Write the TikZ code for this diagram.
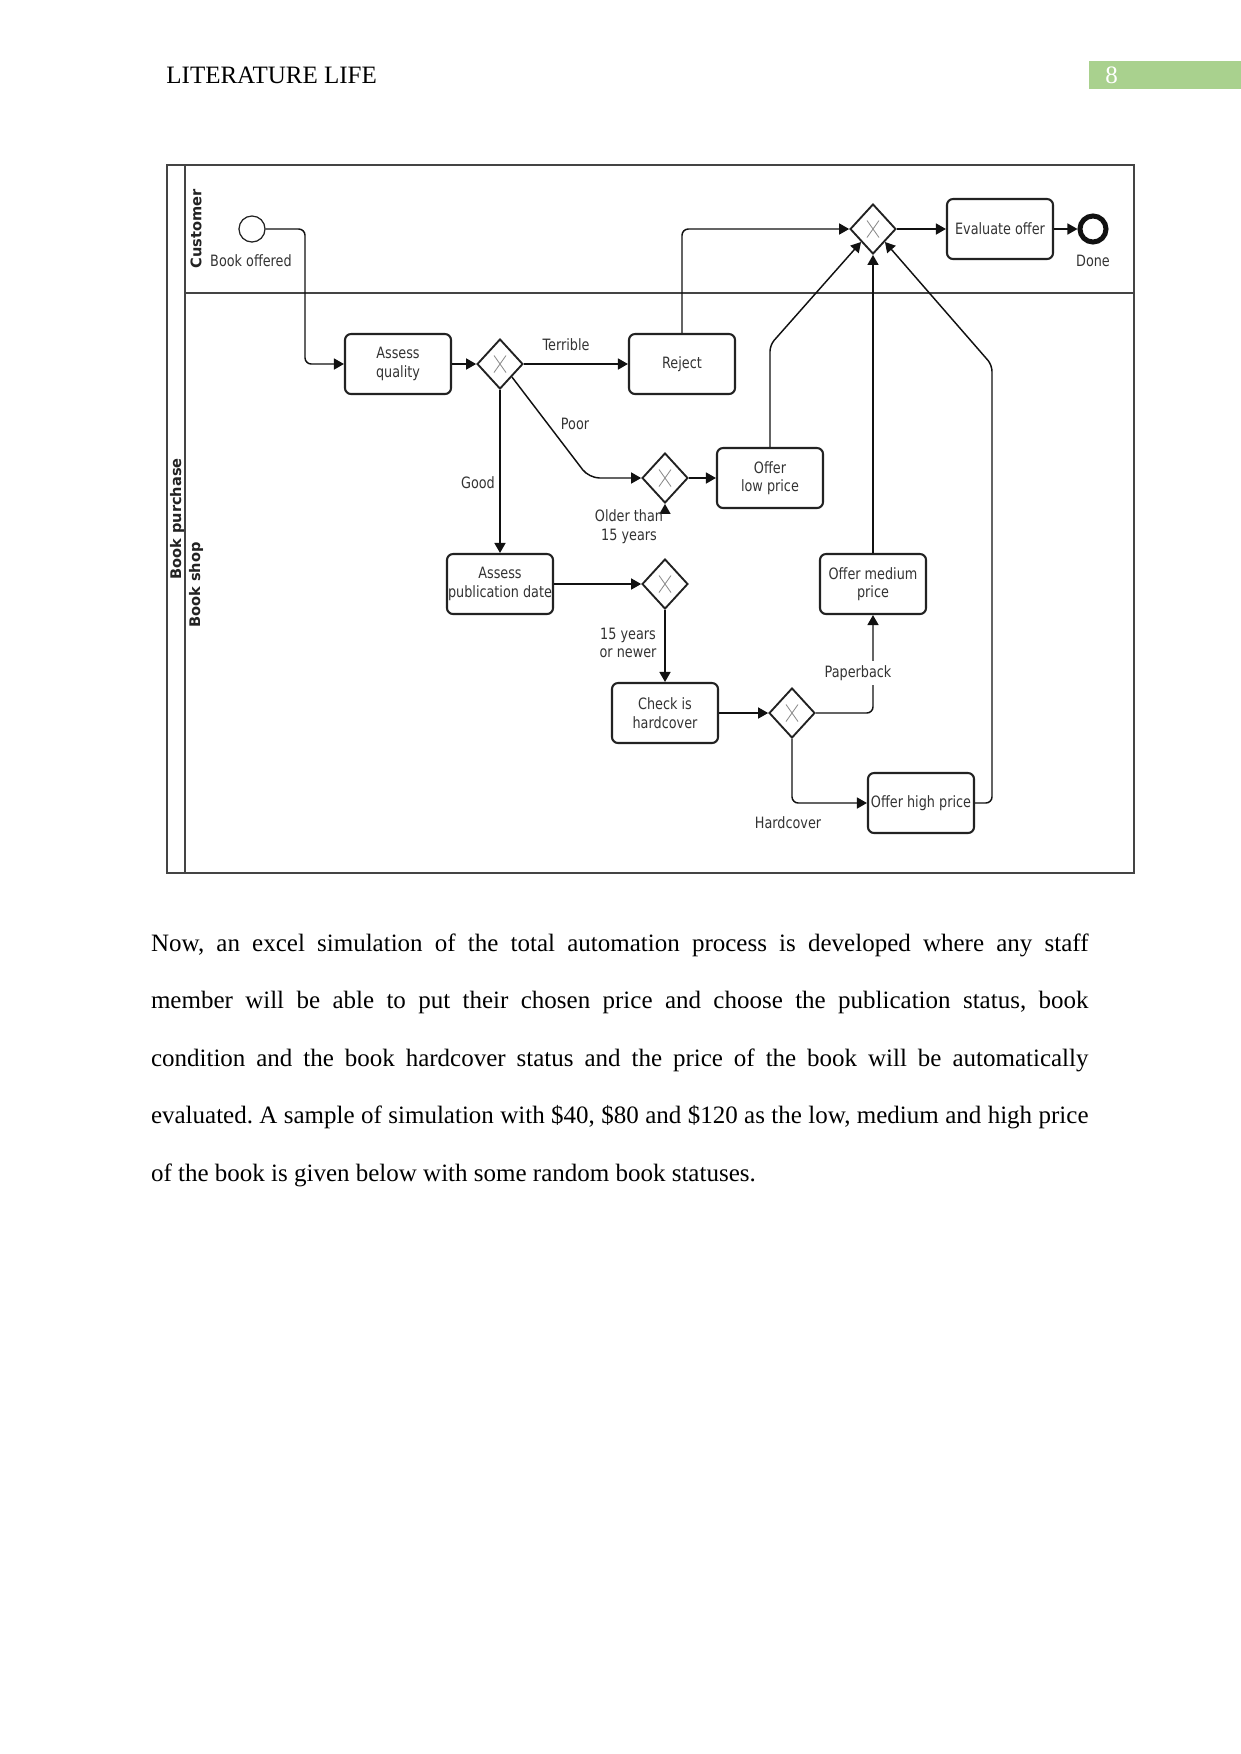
\documentclass[tikz,border=0pt]{standalone}
\usepackage{fontspec}
\setmainfont{Liberation Serif}
\newfontfamily\diagfont[FakeStretch=0.82]{DejaVu Sans}
\newfontfamily\lanefont{DejaVu Sans}
\usetikzlibrary{shapes.geometric,arrows.meta,calc}
\definecolor{framec}{HTML}{444444}
\definecolor{boxc}{HTML}{222222}
\definecolor{linec}{HTML}{111111}
\definecolor{txtc}{HTML}{333333}
\definecolor{xc}{HTML}{8A8A8A}
\definecolor{pagegreen}{HTML}{A9D18E}
\newcommand\diagtext{\diagfont\fontsize{7.5pt}{8.8pt}\selectfont}
\tikzset{
  task/.style={draw=boxc, line width=1pt, rounded corners=2.9pt, minimum width=50.9pt,
    minimum height=28.8pt, inner sep=0pt, align=center, font=\diagtext, text=txtc},
  gw/.style={diamond, draw=boxc, line width=0.9pt, minimum width=22pt, minimum height=24pt,
    inner sep=0pt,
    path picture={\draw[xc, line width=0.4pt]
      ([shift={(-6,-8.5)}]path picture bounding box.center) -- ([shift={(6,8.5)}]path picture bounding box.center)
      ([shift={(-6,8.5)}]path picture bounding box.center) -- ([shift={(6,-8.5)}]path picture bounding box.center);}},
  flow/.style={draw=linec, line width=0.7pt, rounded corners=3pt, -{Triangle[length=4.8pt,width=5.3pt]}},
  lbl/.style={font=\diagtext, text=txtc, inner sep=1pt, align=center},
  lanelbl/.style={rotate=90, font=\lanefont\bfseries\fontsize{7pt}{8pt}\selectfont, text=boxc, inner sep=0pt},
}
\begin{document}
\begin{tikzpicture}[x=0.48pt,y=-0.48pt]
\useasboundingbox (0,0) rectangle (1241,1754);

% header
\node[anchor=base west, inner sep=0pt, font=\fontsize{12pt}{14pt}\selectfont] (hdr) at (166,83) {LITERATURE LIFE};
\fill[pagegreen] (1089,61) rectangle (1241,89);
\node[anchor=base west, inner sep=0pt, text=white, font=\fontsize{12pt}{14pt}\selectfont] (pg) at (1105,83) {8};

% pool frame
\draw[framec, line width=0.8pt] (167,165) rectangle (1134,873);
\draw[framec, line width=0.8pt] (185,165) -- (185,873);
\draw[framec, line width=0.8pt] (185,293) -- (1134,293);
\node[lanelbl] (lcust) at (196,229) {Customer};
\node[lanelbl] (lpool) at (177,519) {Book purchase};
\node[lanelbl] (lshop) at (196,585) {Book shop};

% events
\node[circle, draw=boxc, line width=0.6pt, minimum size=12.5pt, inner sep=0pt] (start) at (252,229) {};
\node[lbl] (startl) at (251,261) {Book offered};
\node[circle, draw=linec, line width=2.4pt, minimum size=12.5pt, inner sep=0pt] (done) at (1093,229) {};
\node[lbl] (donel) at (1093,261) {Done};

% tasks
\node[task] (aq) at (398,364) {Assess\\quality};
\node[task] (rej) at (682,364) {Reject};
\node[task] (low) at (770,478) {Offer\\low price};
\node[task] (eval) at (1000,229) {Evaluate offer};
\node[task] (apd) at (500,584) {Assess\\publication date};
\node[task] (chk) at (665,713) {Check is\\hardcover};
\node[task] (med) at (873,584) {Offer medium\\price};
\node[task] (high) at (921,803) {Offer high price};

% gateways
\node[gw] (g1) at (500,364) {};
\node[gw] (g2) at (665,478) {};
\node[gw] (merge) at (873,229) {};
\node[gw] (g3) at (665,584) {};
\node[gw] (g4) at (792,713) {};

% flows
\draw[flow] (start.east) -- (305,229) -- (305,364) -- (aq.west);
\draw[flow] (aq.east) -- (g1.west);
\draw[flow] (g1.east) -- (rej.west);
\draw[flow, rounded corners=5pt] (g1.south east) -- (589,478) -- (g2.west);
\draw[flow] (g1.south) -- (apd.north);
\draw[flow] (g2.east) -- (low.west);
\draw[flow] (low.north) -- (770,345) -- (merge.south west);
\draw[flow] (rej.north) -- (682,229) -- (merge.west);
\draw[flow] (merge.east) -- (eval.west);
\draw[flow] (eval.east) -- (done.west);
\draw[flow] (apd.east) -- (g3.west);
\draw[flow] (g3.north) -- (g2.south);
\draw[flow] (g3.south) -- (chk.north);
\draw[flow] (chk.east) -- (g4.west);
\draw[flow] (g4.east) -- (873,713) -- (med.south);
\draw[flow] (med.north) -- (merge.south);
\draw[flow] (g4.south) -- (792,803) -- (high.west);
\draw[flow] (high.east) -- (992,803) -- (992,365) -- (merge.south east);

% flow labels
\node[lbl] (lterr) at (566,345) {Terrible};
\node[lbl] (lpoor) at (575,424) {Poor};
\node[lbl] (lgood) at (478,483) {Good};
\node[lbl, fill=white, anchor=north, inner sep=0.5pt, minimum width=35.5pt, text height=11.8pt, text depth=8pt] (lold) at (629,514) {Older than\\15 years};
\node[lbl] (lnew) at (628,643) {15 years\\or newer};
\node[lbl, fill=white, inner sep=2pt] (lpaper) at (858,673) {Paperback};
\node[lbl] (lhard) at (788,823) {Hardcover};

% paragraph
\node[anchor=base west, inner sep=0pt] (para) at (150.6,951) {\parbox[t]{450pt}{\fontsize{12pt}{27.6pt}\selectfont\frenchspacing\hyphenpenalty=10000\emergencystretch=2em
Now, an excel simulation of the total automation process is developed where any staff\linebreak
member will be able to put their chosen price and choose the publication status, book\linebreak
condition and the book hardcover status and the price of the book will be automatically\linebreak
evaluated. A sample of simulation with \$40, \$80 and \$120 as the low, medium and high price\linebreak
of the book is given below with some random book statuses.}};
\end{tikzpicture}
\end{document}
